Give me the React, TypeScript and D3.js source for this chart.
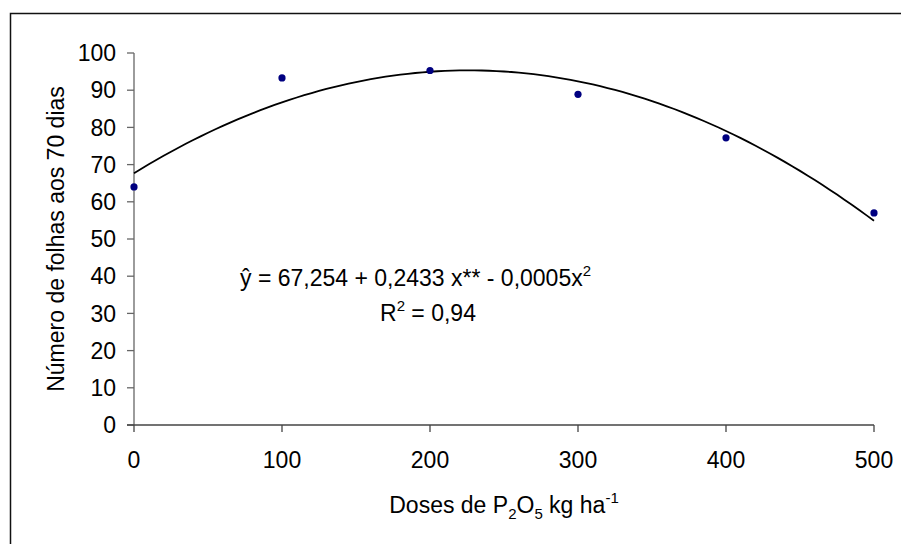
import React from "react";
import * as d3 from "d3";

// doses de P2O5 (kg/ha) and número de folhas aos 70 dias
const doses = [0, 100, 200, 300, 400, 500];
const folhas = [64.0, 93.3, 95.3, 88.9, 77.2, 57.0];
const xTicks = [0, 100, 200, 300, 400, 500];
const yTicks = [0, 10, 20, 30, 40, 50, 60, 70, 80, 90, 100];

const W = 901;
const H = 544;
const FONT = "'Liberation Sans', Arial, sans-serif";
const FS = 23;
const FS_SMALL = 15;

// least squares quadratic (Excel polynomial trendline)
function quadFit(xs: number[], ys: number[]) {
  const n = xs.length;
  let s1 = 0, s2 = 0, s3 = 0, s4 = 0, t0 = 0, t1 = 0, t2 = 0;
  xs.forEach((x, i) => {
    const y = ys[i];
    s1 += x; s2 += x * x; s3 += x ** 3; s4 += x ** 4;
    t0 += y; t1 += x * y; t2 += x * x * y;
  });
  const m = [
    [n, s1, s2, t0],
    [s1, s2, s3, t1],
    [s2, s3, s4, t2],
  ];
  for (let i = 0; i < 3; i++) {
    for (let k = i + 1; k < 3; k++) {
      const f = m[k][i] / m[i][i];
      for (let j = i; j < 4; j++) m[k][j] -= f * m[i][j];
    }
  }
  const c = [0, 0, 0];
  for (let i = 2; i >= 0; i--) {
    let s = m[i][3];
    for (let j = i + 1; j < 3; j++) s -= m[i][j] * c[j];
    c[i] = s / m[i][i];
  }
  return (x: number) => c[0] + c[1] * x + c[2] * x * x;
}

export default function App() {
  const x = d3.scaleLinear().domain([0, 500]).range([134, 874]);
  const y = d3.scaleLinear().domain([0, 100]).range([425, 53]);

  const trend = quadFit(doses, folhas);
  const trendPts = d3.range(0, 501, 5).map((d) => [d, trend(d)] as [number, number]);
  const line = d3
    .line<[number, number]>()
    .x((d) => x(d[0]))
    .y((d) => y(d[1]));

  const axisColor = "#666";

  return (
    <svg
      width={W}
      height={H}
      style={{ position: "absolute", left: 0, top: 0, background: "#fff" }}
      fontFamily={FONT}
    >
      <rect x={10.5} y={13.5} width={1000} height={1000} fill="#fff" stroke="#111" strokeWidth={1.5} />

      {/* y axis */}
      <line x1={x(0)} x2={x(0)} y1={y(0)} y2={y(100)} stroke={axisColor} strokeWidth={1.3} />
      {yTicks.map((t) => (
        <g key={"y" + t}>
          <line x1={x(0) - 7} x2={x(0)} y1={y(t)} y2={y(t)} stroke={axisColor} strokeWidth={1.3} />
          <text x={116} y={y(t)} dy="0.36em" textAnchor="end" fontSize={FS} fill="#000">
            {t}
          </text>
        </g>
      ))}

      {/* x axis */}
      <line x1={x(0) - 7} x2={x(500)} y1={y(0)} y2={y(0)} stroke="#444" strokeWidth={1.3} />
      {xTicks.map((t) => (
        <g key={"x" + t}>
          <line x1={x(t)} x2={x(t)} y1={y(0)} y2={y(0) + 7} stroke="#444" strokeWidth={1.3} />
          <text x={x(t)} y={468} textAnchor="middle" fontSize={FS} fill="#000">
            {t}
          </text>
        </g>
      ))}

      {/* trendline */}
      <path d={line(trendPts) ?? ""} fill="none" stroke="#000" strokeWidth={1.8} />

      {/* observed points */}
      {doses.map((d, i) => (
        <circle key={d} cx={x(d)} cy={y(folhas[i])} r={3.6} fill="#000080" />
      ))}

      {/* equation */}
      <text x={240} y={286} fontSize={FS} fill="#000">
        ŷ = 67,254 + 0,2433 x** - 0,0005x
        <tspan dy={-10} fontSize={FS_SMALL}>2</tspan>
      </text>
      <text x={380} y={321} fontSize={FS} fill="#000">
        R<tspan dy={-10} fontSize={FS_SMALL}>2</tspan>
        <tspan dy={10}> = 0,94</tspan>
      </text>

      {/* axis titles */}
      <text x={504} y={513} textAnchor="middle" fontSize={FS} fill="#000">
        Doses de P<tspan dy={6} fontSize={FS_SMALL}>2</tspan>
        <tspan dy={-6}>O</tspan>
        <tspan dy={6} fontSize={FS_SMALL}>5</tspan>
        <tspan dy={-6}> kg ha</tspan>
        <tspan dy={-10} fontSize={FS_SMALL}>-1</tspan>
      </text>
      <text
        transform={`translate(64,${(y(0) + y(100)) / 2}) rotate(-90)`}
        textAnchor="middle"
        fontSize={FS}
        fill="#000"
      >
        Número de folhas aos 70 dias
      </text>
    </svg>
  );
}
